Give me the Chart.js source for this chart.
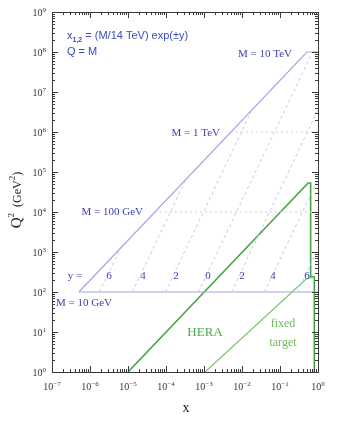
<!DOCTYPE html>
<html>
<head>
<meta charset="utf-8">
<script src="https://cdn.jsdelivr.net/npm/chart.js@4.4.0/dist/chart.umd.min.js"></script>
<style>
  html, body { margin: 0; padding: 0; background: #fff; }
  canvas { display: block; }
</style>
</head>
<body>
<canvas id="kin" width="346" height="428"></canvas>
<script>
// LHC kinematic region: outer limit Q^2 = x s and the M = 10 TeV / 10 GeV lines
const lhcEdgeX  = [5.1e-7, 0.51, 1];
const lhcEdgeQ2 = [1e2, 1e8, 1e8];
const m10GeVX   = [5.1e-7, 1];
const m10GeVQ2  = [1e2, 1e2];
// dotted M = 100 GeV and M = 1 TeV lines
const m100GeVX  = [5.1e-5, 1];
const m100GeVQ2 = [1e4, 1e4];
const m1TeVX    = [5.1e-3, 1];
const m1TeVQ2   = [1e6, 1e6];
// constant rapidity lines (y = 6,4,2,0,-2,-4,-6)
const rapLabels  = ['6', '4', '2', '0', '2', '4', '6'];
const rapStartX  = [1.77e-6, 1.31e-5, 9.67e-5, 7.14e-4, 5.28e-3, 3.9e-2, 0.288];
const rapStartQ2 = [1e2, 1e2, 1e2, 1e2, 1e2, 1e2, 1e2];
const rapEndX    = [6.14e-6, 3.35e-4, 1.83e-2, 0.714, 1, 1, 1];
const rapEndQ2   = [1.2e3, 6.6e4, 3.6e6, 1e8, 3.6e6, 6.6e4, 1.2e3];
// HERA and fixed target regions
const heraX  = [1e-5, 0.55, 0.64, 0.64, 0.8, 0.8];
const heraQ2 = [1, 5.3e4, 5.3e4, 240, 240, 1];
const fixedX  = [1.07e-3, 0.48, 0.8];
const fixedQ2 = [1, 208, 240];
// axis decades
const xDecades = [-7, -6, -5, -4, -3, -2, -1, 0];
const yDecades = [0, 1, 2, 3, 4, 5, 6, 7, 8, 9];

const blueLine = '#a4a6e2';
const blueDash = '#c3c7e8';
const blueText = '#3d3fae';
const green    = '#44a444';
const green2   = '#7cc46a';

function pts(xs, ys) {
  return xs.map((v, i) => ({ x: v, y: ys[i] }));
}

function line(xs, ys, color, width, dash) {
  return {
    data: pts(xs, ys),
    borderColor: color,
    borderWidth: width,
    borderDash: dash || [],
    showLine: true,
    pointRadius: 0,
    fill: false,
    tension: 0
  };
}

let sets = [
  line(m100GeVX, m100GeVQ2, blueDash, 1, [2, 3]),
  line(m1TeVX, m1TeVQ2, blueDash, 1, [2, 3])
];
rapStartX.forEach((v, i) => {
  sets.push(line([v, rapEndX[i]], [rapStartQ2[i], rapEndQ2[i]], blueDash, 1, [3, 3]));
});
sets.push(line(lhcEdgeX, lhcEdgeQ2, blueLine, 1.2));
sets.push(line(m10GeVX, m10GeVQ2, blueLine, 1.2));
sets.push(line(fixedX, fixedQ2, green2, 1.2));
sets.push(line(heraX, heraQ2, green, 1.6));

function sup(ctx, base, exp, x, y, align, size) {
  ctx.font = size + 'px "Liberation Serif", "DejaVu Serif", serif';
  const bw = ctx.measureText(base).width;
  ctx.font = Math.round(size * 0.7) + 'px "Liberation Serif", "DejaVu Serif", serif';
  const ew = ctx.measureText(exp).width;
  let x0 = x;
  if (align === 'center') x0 = x - (bw + ew) / 2;
  if (align === 'right') x0 = x - (bw + ew);
  ctx.textAlign = 'left';
  ctx.textBaseline = 'alphabetic';
  ctx.font = size + 'px "Liberation Serif", "DejaVu Serif", serif';
  ctx.fillText(base, x0, y);
  ctx.font = Math.round(size * 0.7) + 'px "Liberation Serif", "DejaVu Serif", serif';
  ctx.fillText(exp, x0 + bw, y - size * 0.45);
}

const decor = {
  id: 'decor',
  afterDatasetsDraw(chart) {
    const ctx = chart.ctx;
    const xs = chart.scales.x, ys = chart.scales.y;
    const a = chart.chartArea;
    ctx.save();
    // frame
    ctx.strokeStyle = '#3a3a3a';
    ctx.lineWidth = 1;
    ctx.strokeRect(a.left + 0.5, a.top + 0.5, a.right - a.left, a.bottom - a.top);
    // ticks
    ctx.beginPath();
    xDecades.forEach(e => {
      for (let k = 1; k <= 9; k++) {
        if (e === 0 && k > 1) break;
        const px = Math.round(xs.getPixelForValue(k * Math.pow(10, e))) + 0.5;
        const len = k === 1 ? 6 : 3;
        ctx.moveTo(px, a.bottom); ctx.lineTo(px, a.bottom - len);
        ctx.moveTo(px, a.top); ctx.lineTo(px, a.top + len);
      }
    });
    yDecades.forEach(e => {
      for (let k = 1; k <= 9; k++) {
        if (e === 9 && k > 1) break;
        const py = Math.round(ys.getPixelForValue(k * Math.pow(10, e))) + 0.5;
        const len = k === 1 ? 6 : 3;
        ctx.moveTo(a.left, py); ctx.lineTo(a.left + len, py);
        ctx.moveTo(a.right, py); ctx.lineTo(a.right - len, py);
      }
    });
    ctx.stroke();
    // tick labels
    ctx.fillStyle = '#333';
    xDecades.forEach(e => {
      const px = xs.getPixelForValue(Math.pow(10, e));
      sup(ctx, '10', e === 0 ? '0' : '\u2212' + (-e), px, a.bottom + 18, 'center', 10);
    });
    yDecades.forEach(e => {
      const py = ys.getPixelForValue(Math.pow(10, e));
      sup(ctx, '10', String(e), a.left - 6, py + 4, 'right', 10);
    });
    // axis titles
    ctx.fillStyle = '#222';
    sup(ctx, 'x', '', (a.left + a.right) / 2 + 1, 412, 'center', 14);
    ctx.save();
    ctx.translate(21, 200);
    ctx.rotate(-Math.PI / 2);
    ctx.font = '15px "Liberation Serif", serif';
    let w1 = ctx.measureText('Q').width;
    ctx.font = '12px "Liberation Serif", serif';
    let w2 = ctx.measureText('  (GeV').width;
    let w3 = ctx.measureText(')').width;
    ctx.font = '9px "Liberation Serif", serif';
    let ws = ctx.measureText('2').width;
    let x0 = -(w1 + ws + w2 + ws + w3) / 2;
    ctx.textAlign = 'left';
    ctx.font = '15px "Liberation Serif", serif';
    ctx.fillText('Q', x0, 0); x0 += w1;
    ctx.font = '9px "Liberation Serif", serif';
    ctx.fillText('2', x0, -7); x0 += ws;
    ctx.font = '12px "Liberation Serif", serif';
    ctx.fillText('  (GeV', x0, 0); x0 += w2;
    ctx.font = '9px "Liberation Serif", serif';
    ctx.fillText('2', x0, -6); x0 += ws;
    ctx.font = '12px "Liberation Serif", serif';
    ctx.fillText(')', x0, 0);
    ctx.restore();
    // formula text
    ctx.fillStyle = '#3a4cbe';
    ctx.textAlign = 'left';
    ctx.font = '11px "Liberation Sans", Arial, sans-serif';
    ctx.fillText('x', 67, 39);
    let wx = ctx.measureText('x').width;
    ctx.font = 'bold 7px "Liberation Sans", Arial, sans-serif';
    ctx.fillText('1,2', 67 + wx, 42);
    let wsub = ctx.measureText('1,2').width;
    ctx.font = '11px "Liberation Sans", Arial, sans-serif';
    ctx.fillText(' = (M/14 TeV) exp(\u00b1y)', 67 + wx + wsub, 39);
    ctx.fillText('Q = M', 67, 55);
    // M labels
    ctx.fillStyle = blueText;
    ctx.font = '11px "Liberation Serif", serif';
    ctx.textAlign = 'right';
    ctx.fillText('M = 10 TeV', 292, 57);
    ctx.fillText('M = 1 TeV', 220, 136);
    ctx.fillText('M = 100 GeV', 143, 215);
    ctx.textAlign = 'left';
    ctx.fillText('M = 10 GeV', 56, 306);
    ctx.textAlign = 'center';
    ctx.fillText('y =', 75, 279);
    const rapPx = [109, 143, 176, 208, 242, 273, 307];
    rapLabels.forEach((t, i) => ctx.fillText(t, rapPx[i], 279));
    // HERA / fixed target
    ctx.fillStyle = '#4aaa4a';
    ctx.font = '13px "Liberation Serif", serif';
    ctx.fillText('HERA', 205, 336);
    ctx.fillStyle = '#6cbb5c';
    ctx.font = '12px "Liberation Serif", serif';
    ctx.fillText('fixed', 283, 327);
    ctx.fillText('target', 283, 346);
    ctx.restore();
  }
};

new Chart(document.getElementById('kin'), {
  type: 'scatter',
  data: { datasets: sets },
  options: {
    responsive: false,
    animation: false,
    layout: { padding: { left: 52, right: 28, top: 12, bottom: 56 } },
    plugins: { legend: { display: false }, tooltip: { enabled: false } },
    scales: {
      x: { type: 'logarithmic', min: 1e-7, max: 1, display: false },
      y: { type: 'logarithmic', min: 1, max: 1e9, display: false }
    }
  },
  plugins: [decor]
});
</script>
</body>
</html>
